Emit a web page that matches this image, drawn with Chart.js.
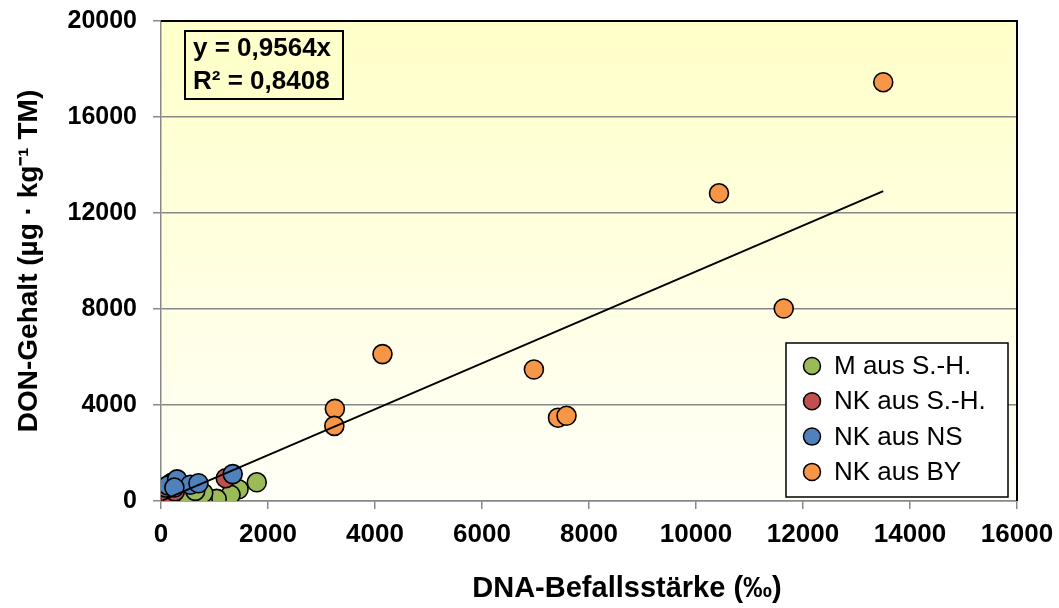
<!DOCTYPE html>
<html>
<head>
<meta charset="utf-8">
<script src="https://cdn.jsdelivr.net/npm/chart.js@4/dist/chart.umd.min.js"></script>
<style>
  html, body { margin: 0; padding: 0; background: #fff; }
  #wrap { width: 1059px; height: 608px; position: relative; }
</style>
</head>
<body>
<div id="wrap"><canvas id="donChart" width="1059" height="608"></canvas></div>
<script>
// Series (x = DNA-Befallsstärke, y = DON-Gehalt)
const mSH_x  = [1790, 1450, 1300, 1040, 780, 520, 790, 640];
const mSH_y  = [780, 490, 260, 90, 40, 60, 330, 420];
const nkSH_x = [30, 170, 1210, 260, 90];
const nkSH_y = [280, 130, 950, 400, 560];
const nkNS_x = [200, 130, 300, 550, 700, 1340, 250];
const nkNS_y = [760, 650, 900, 680, 740, 1120, 560];
const nkBY_x = [13500, 10430, 11640, 4140, 6970, 7420, 7580, 3250, 3240];
const nkBY_y = [17450, 12820, 8020, 6120, 5480, 3470, 3550, 3840, 3130];

const seriesNames = ['M aus S.-H.', 'NK aus S.-H.', 'NK aus NS', 'NK aus BY'];
const seriesColors = ['#9BBB59', '#C0504D', '#4F81BD', '#F79646'];

// linear trend through origin, as printed on the chart
const trendSlope = 0.9564;
const trendLabel = ['y = 0,9564x', 'R² = 0,8408'];

const xTicks = [0, 2000, 4000, 6000, 8000, 10000, 12000, 14000, 16000];
const yTicks = [0, 4000, 8000, 12000, 16000, 20000];
const xTitle = 'DNA-Befallsstärke (‰)';
const yTitle = 'DON-Gehalt (µg · kg⁻¹ TM)';

const FONT = '"Liberation Sans", Arial, sans-serif';

function toPoints(xs, ys) {
    return xs.map((x, i) => ({ x: x, y: ys[i] }));
}

const allX = [].concat(mSH_x, nkSH_x, nkNS_x, nkBY_x);
const trendX = [Math.min(...allX), Math.max(...allX)];

// Plot background + frame + equation box + legend + x title
const decorPlugin = {
    id: 'decor',
    beforeDraw(chart) {
        const { ctx, chartArea: a } = chart;
        const g = ctx.createLinearGradient(0, a.top, 0, a.bottom);
        g.addColorStop(0, '#FFFFC9');
        g.addColorStop(1, '#FFFFF8');
        ctx.save();
        ctx.fillStyle = g;
        ctx.fillRect(a.left, a.top, a.right - a.left, a.bottom - a.top);
        ctx.restore();
    },
    afterDraw(chart) {
        const { ctx, chartArea: a } = chart;
        ctx.save();
        // top and right frame
        ctx.strokeStyle = '#000';
        ctx.lineWidth = 2;
        ctx.beginPath();
        ctx.moveTo(a.left, a.top);
        ctx.lineTo(a.right, a.top);
        ctx.lineTo(a.right, a.bottom);
        ctx.stroke();

        // equation box
        ctx.fillStyle = '#FFFFCB';
        ctx.fillRect(185, 31, 158, 68);
        ctx.strokeRect(185, 31, 158, 68);
        ctx.fillStyle = '#000';
        ctx.font = 'bold 26px ' + FONT;
        ctx.textBaseline = 'middle';
        ctx.textAlign = 'left';
        ctx.fillText(trendLabel[0], 193, 49);
        ctx.fillText(trendLabel[1], 193, 82);

        // legend
        ctx.fillStyle = '#fff';
        ctx.fillRect(786, 343, 222, 154);
        ctx.lineWidth = 1.5;
        ctx.strokeRect(786, 343, 222, 154);
        ctx.font = '26px ' + FONT;
        seriesNames.forEach((name, i) => {
            const y = 366 + i * 35.3;
            ctx.beginPath();
            ctx.arc(812, y, 8.5, 0, Math.PI * 2);
            ctx.fillStyle = seriesColors[i];
            ctx.fill();
            ctx.strokeStyle = '#000';
            ctx.lineWidth = 1.5;
            ctx.stroke();
            ctx.fillStyle = '#000';
            ctx.fillText(name, 834, y + 1);
        });

        // x axis title (sits a bit right of the plot centre in the original)
        ctx.font = 'bold 29px ' + FONT;
        ctx.textAlign = 'center';
        ctx.fillText(xTitle, 627, 589);
        ctx.restore();
    }
};

function scatterSet(i, xs, ys, order) {
    return {
        label: seriesNames[i],
        data: toPoints(xs, ys),
        backgroundColor: seriesColors[i],
        borderColor: '#000',
        borderWidth: 1.6,
        pointRadius: 9.5,
        pointHoverRadius: 9.5,
        showLine: false,
        order: order
    };
}

new Chart(document.getElementById('donChart'), {
    type: 'scatter',
    data: {
        datasets: [
            {
                label: 'Trend',
                data: trendX.map(x => ({ x: x, y: trendSlope * x })),
                type: 'line',
                borderColor: '#000',
                borderWidth: 2,
                pointRadius: 0,
                fill: false,
                order: 0
            },
            scatterSet(3, nkBY_x, nkBY_y, 1),
            scatterSet(2, nkNS_x, nkNS_y, 2),
            scatterSet(1, nkSH_x, nkSH_y, 3),
            scatterSet(0, mSH_x, mSH_y, 4)
        ]
    },
    options: {
        responsive: false,
        animation: false,
        layout: { padding: { left: 0, top: 21, right: 42, bottom: 0 } },
        plugins: {
            legend: { display: false },
            tooltip: { enabled: false }
        },
        scales: {
            x: {
                type: 'linear',
                min: 0,
                max: 16000,
                afterBuildTicks(axis) { axis.ticks = xTicks.map(v => ({ value: v })); },
                afterFit(axis) {
                    axis.height = 107;
                    axis.paddingLeft = 0;
                    axis.paddingRight = 0;
                },
                border: { color: '#888', width: 1.5 },
                grid: { drawOnChartArea: false, color: '#888', lineWidth: 1.5, tickLength: 8 },
                ticks: {
                    color: '#000',
                    padding: 10,
                    maxRotation: 0,
                    autoSkip: false,
                    callback: v => String(v),
                    font: { family: FONT, size: 26, weight: 'bold' }
                },
                title: { display: false }
            },
            y: {
                type: 'linear',
                min: 0,
                max: 20000,
                afterBuildTicks(axis) { axis.ticks = yTicks.map(v => ({ value: v })); },
                afterFit(axis) {
                    axis.width = 161;
                    axis.paddingTop = 0;
                    axis.paddingBottom = 0;
                },
                border: { color: '#888', width: 1.5 },
                grid: { color: '#888', lineWidth: 1.5, tickLength: 8 },
                ticks: {
                    color: '#000',
                    padding: 16,
                    autoSkip: false,
                    callback: v => String(v),
                    font: { family: FONT, size: 25, weight: 'bold' }
                },
                title: {
                    display: true,
                    text: yTitle,
                    color: '#000',
                    padding: { top: 12, bottom: 0 },
                    font: { family: FONT, size: 28, weight: 'bold' }
                }
            }
        }
    },
    plugins: [decorPlugin]
});
</script>
</body>
</html>
